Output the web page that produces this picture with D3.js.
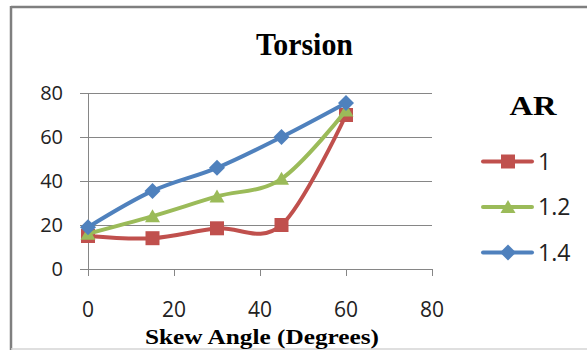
<!DOCTYPE html>
<html>
<head>
<meta charset="utf-8">
<script src="https://cdn.jsdelivr.net/npm/d3@7"></script>
<style>
  html, body { margin: 0; padding: 0; background: #fff; }
  svg { display: block; }
</style>
</head>
<body>
<div id="chart"></div>
<script>
// chart data
const skewAngles = [0, 15, 30, 45, 60];
const seriesNames = ["1", "1.2", "1.4"];
const ar1 = [15, 14, 18.5, 20, 70];
const ar12 = [16, 24, 33, 41, 72];
const ar14 = [19, 35.5, 46, 60, 75.5];
const xTicks = [0, 20, 40, 60, 80];
const yTicks = [0, 20, 40, 60, 80];

const colors = ["#C0504D", "#9BBB59", "#4F81BD"];
const shapes = ["square", "triangle", "diamond"];

const width = 587, height = 350;

const svg = d3.select("#chart").append("svg")
    .attr("width", width)
    .attr("height", height);

// outer chart border
svg.append("line").attr("x1", 11).attr("x2", 600).attr("y1", 7).attr("y2", 7)
    .attr("stroke", "#7f7f7f").attr("stroke-width", 2.5);
svg.append("line").attr("x1", 11).attr("x2", 11).attr("y1", 6).attr("y2", 350)
    .attr("stroke", "#7f7f7f").attr("stroke-width", 2.5);
svg.append("line").attr("x1", 11).attr("x2", 600).attr("y1", 349).attr("y2", 349)
    .attr("stroke", "#d4d4d4").attr("stroke-width", 1.5);

// scales
const x = d3.scaleLinear().domain([0, 80]).range([88, 432]);
const y = d3.scaleLinear().domain([0, 80]).range([269, 93]);

// title
svg.append("text")
    .attr("x", 304.5).attr("y", 55)
    .attr("text-anchor", "middle")
    .attr("font-family", "Liberation Serif")
    .attr("font-weight", "bold")
    .attr("font-size", 31)
    .attr("textLength", 97)
    .attr("lengthAdjust", "spacingAndGlyphs")
    .text("Torsion");

// gridlines
svg.append("g").selectAll("line")
    .data(yTicks)
    .join("line")
    .attr("x1", 80).attr("x2", x(80))
    .attr("y1", d => Math.round(y(d)) + 0.5)
    .attr("y2", d => Math.round(y(d)) + 0.5)
    .attr("stroke", "#868686")
    .attr("stroke-width", 1);

// y axis line
svg.append("line")
    .attr("x1", x(0) + 0.5).attr("x2", x(0) + 0.5)
    .attr("y1", y(80)).attr("y2", y(0) + 7)
    .attr("stroke", "#868686");

// x ticks
svg.append("g").selectAll("line")
    .data(xTicks)
    .join("line")
    .attr("x1", d => Math.round(x(d)) + 0.5)
    .attr("x2", d => Math.round(x(d)) + 0.5)
    .attr("y1", y(0)).attr("y2", y(0) + 7)
    .attr("stroke", "#868686");

// tick labels
svg.append("g").selectAll("text")
    .data(yTicks)
    .join("text")
    .attr("x", 63)
    .attr("y", d => y(d))
    .attr("dy", "0.36em")
    .attr("text-anchor", "end")
    .attr("font-family", "Open Sans")
    .attr("font-size", 20)
    .attr("fill", "#222")
    .text(d => d);

svg.append("g").selectAll("text")
    .data(xTicks)
    .join("text")
    .attr("x", d => x(d))
    .attr("y", 317)
    .attr("text-anchor", "middle")
    .attr("font-family", "Open Sans")
    .attr("font-size", 21)
    .attr("fill", "#222")
    .text(d => d);

// axis title
svg.append("text")
    .attr("x", 262).attr("y", 344)
    .attr("text-anchor", "middle")
    .attr("font-family", "Liberation Serif")
    .attr("font-weight", "bold")
    .attr("font-size", 21)
    .attr("textLength", 234)
    .attr("lengthAdjust", "spacingAndGlyphs")
    .text("Skew Angle (Degrees)");

// marker paths
function markerPath(shape) {
  if (shape === "square") return "M-7,-7H7V7H-7Z";
  if (shape === "triangle") return "M0,-7L7.5,6H-7.5Z";
  return "M0,-8L8,0L0,8L-8,0Z";
}

const series = [ar1, ar12, ar14].map((vals, i) => ({
  name: seriesNames[i],
  color: colors[i],
  shape: shapes[i],
  points: skewAngles.map((a, j) => [a, vals[j]])
}));

const line = d3.line()
    .x(d => x(d[0]))
    .y(d => y(d[1]))
    .curve(d3.curveCardinal.tension(0));

const sg = svg.append("g").selectAll("g")
    .data(series)
    .join("g");

sg.append("path")
    .attr("d", d => line(d.points))
    .attr("fill", "none")
    .attr("stroke", d => d.color)
    .attr("stroke-width", 4)
    .attr("stroke-linejoin", "round")
    .attr("stroke-linecap", "round");

sg.selectAll("path.marker")
    .data(d => d.points.map(p => ({ p, s: d })))
    .join("path")
    .attr("class", "marker")
    .attr("transform", d => `translate(${x(d.p[0])},${y(d.p[1])})`)
    .attr("d", d => markerPath(d.s.shape))
    .attr("fill", d => d.s.color);

// legend
svg.append("text")
    .attr("x", 533).attr("y", 115)
    .attr("text-anchor", "middle")
    .attr("font-family", "Liberation Serif")
    .attr("font-weight", "bold")
    .attr("font-size", 27)
    .attr("textLength", 47)
    .attr("lengthAdjust", "spacingAndGlyphs")
    .text("AR");

const legendY = [161.5, 207, 252.5];
const lg = svg.append("g").selectAll("g")
    .data(series)
    .join("g")
    .attr("transform", (d, i) => `translate(0,${legendY[i]})`);

lg.append("line")
    .attr("x1", 483).attr("x2", 532)
    .attr("stroke", d => d.color)
    .attr("stroke-width", 4)
    .attr("stroke-linecap", "round");

lg.append("path")
    .attr("transform", "translate(508,0)")
    .attr("d", d => markerPath(d.shape))
    .attr("fill", d => d.color);

lg.append("text")
    .attr("x", 538)
    .attr("dy", "0.36em")
    .attr("font-family", "Open Sans")
    .attr("font-size", 23)
    .attr("fill", "#222")
    .text(d => d.name);
</script>
</body>
</html>
